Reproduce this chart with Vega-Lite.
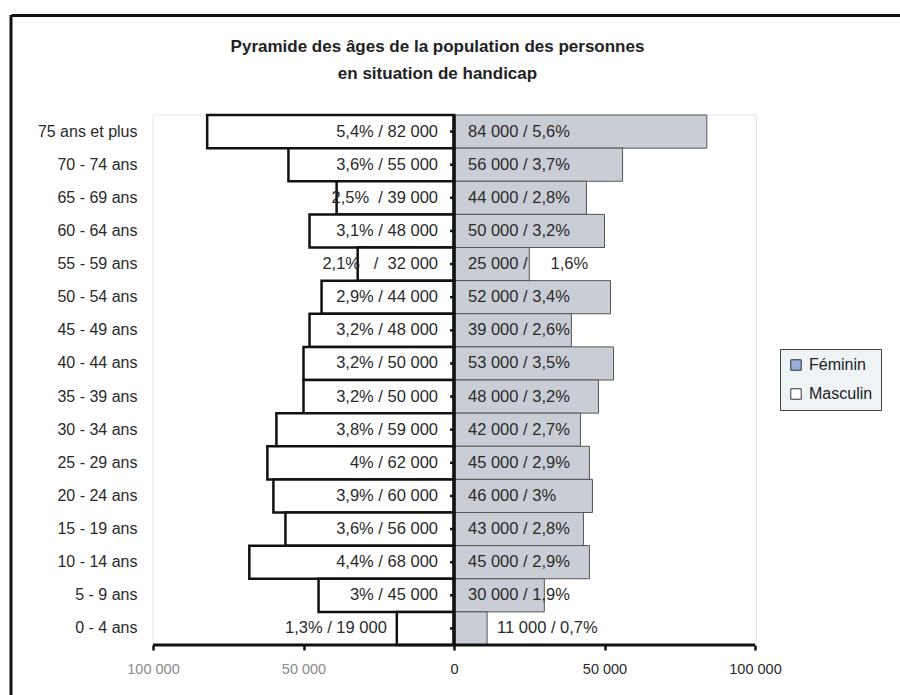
{
  "$schema": "https://vega.github.io/schema/vega-lite/v6.json",
  "width": 889,
  "height": 680,
  "autosize": {"type": "none"},
  "padding": {"left": 11, "top": 15, "right": 0, "bottom": 0},
  "background": "white",
  "title": {
    "text": "Pyramide des âges de la population des personnes",
    "subtitle": "en situation de handicap",
    "anchor": "middle",
    "frame": "group",
    "offset": -69,
    "dx": -18,
    "font": "Liberation Sans",
    "fontSize": 17,
    "fontWeight": "bold",
    "color": "#222222",
    "subtitleFont": "Liberation Sans",
    "subtitleFontSize": 17,
    "subtitleFontWeight": "bold",
    "subtitleColor": "#222222",
    "subtitlePadding": 10
  },
  "config": {
    "view": {"stroke": null},
    "font": "Liberation Sans"
  },
  "data": {
    "values": [
      {"age": "75 ans et plus", "sexe": "Féminin", "effectif": 84000, "etiquette": "84 000 / 5,6%"},
      {"age": "70 - 74 ans", "sexe": "Féminin", "effectif": 56000, "etiquette": "56 000 / 3,7%"},
      {"age": "65 - 69 ans", "sexe": "Féminin", "effectif": 44000, "etiquette": "44 000 / 2,8%"},
      {"age": "60 - 64 ans", "sexe": "Féminin", "effectif": 50000, "etiquette": "50 000 / 3,2%"},
      {"age": "55 - 59 ans", "sexe": "Féminin", "effectif": 25000, "etiquette": "25 000 /\u00a0\u00a0\u00a0\u00a0\u00a01,6%"},
      {"age": "50 - 54 ans", "sexe": "Féminin", "effectif": 52000, "etiquette": "52 000 / 3,4%"},
      {"age": "45 - 49 ans", "sexe": "Féminin", "effectif": 39000, "etiquette": "39 000 / 2,6%"},
      {"age": "40 - 44 ans", "sexe": "Féminin", "effectif": 53000, "etiquette": "53 000 / 3,5%"},
      {"age": "35 - 39 ans", "sexe": "Féminin", "effectif": 48000, "etiquette": "48 000 / 3,2%"},
      {"age": "30 - 34 ans", "sexe": "Féminin", "effectif": 42000, "etiquette": "42 000 / 2,7%"},
      {"age": "25 - 29 ans", "sexe": "Féminin", "effectif": 45000, "etiquette": "45 000 / 2,9%"},
      {"age": "20 - 24 ans", "sexe": "Féminin", "effectif": 46000, "etiquette": "46 000 / 3%"},
      {"age": "15 - 19 ans", "sexe": "Féminin", "effectif": 43000, "etiquette": "43 000 / 2,8%"},
      {"age": "10 - 14 ans", "sexe": "Féminin", "effectif": 45000, "etiquette": "45 000 / 2,9%"},
      {"age": "5 - 9 ans", "sexe": "Féminin", "effectif": 30000, "etiquette": "30 000 / 1,9%"},
      {"age": "0 - 4 ans", "sexe": "Féminin", "effectif": 11000, "etiquette": "11 000 / 0,7%"},
      {"age": "75 ans et plus", "sexe": "Masculin", "effectif": -82000, "etiquette": "5,4% / 82 000"},
      {"age": "70 - 74 ans", "sexe": "Masculin", "effectif": -55000, "etiquette": "3,6% / 55 000"},
      {"age": "65 - 69 ans", "sexe": "Masculin", "effectif": -39000, "etiquette": "2,5%\u00a0\u00a0/ 39 000"},
      {"age": "60 - 64 ans", "sexe": "Masculin", "effectif": -48000, "etiquette": "3,1% / 48 000"},
      {"age": "55 - 59 ans", "sexe": "Masculin", "effectif": -32000, "etiquette": "2,1%\u00a0\u00a0\u00a0/\u00a0\u00a032 000"},
      {"age": "50 - 54 ans", "sexe": "Masculin", "effectif": -44000, "etiquette": "2,9% / 44 000"},
      {"age": "45 - 49 ans", "sexe": "Masculin", "effectif": -48000, "etiquette": "3,2% / 48 000"},
      {"age": "40 - 44 ans", "sexe": "Masculin", "effectif": -50000, "etiquette": "3,2% / 50 000"},
      {"age": "35 - 39 ans", "sexe": "Masculin", "effectif": -50000, "etiquette": "3,2% / 50 000"},
      {"age": "30 - 34 ans", "sexe": "Masculin", "effectif": -59000, "etiquette": "3,8% / 59 000"},
      {"age": "25 - 29 ans", "sexe": "Masculin", "effectif": -62000, "etiquette": "4% / 62 000"},
      {"age": "20 - 24 ans", "sexe": "Masculin", "effectif": -60000, "etiquette": "3,9% / 60 000"},
      {"age": "15 - 19 ans", "sexe": "Masculin", "effectif": -56000, "etiquette": "3,6% / 56 000"},
      {"age": "10 - 14 ans", "sexe": "Masculin", "effectif": -68000, "etiquette": "4,4% / 68 000"},
      {"age": "5 - 9 ans", "sexe": "Masculin", "effectif": -45000, "etiquette": "3% / 45 000"},
      {"age": "0 - 4 ans", "sexe": "Masculin", "effectif": -19000, "etiquette": "1,3% / 19 000"}
    ]
  },
  "resolve": {"scale": {"x": "independent"}, "axis": {"x": "independent"}},
  "layer": [
    {
      "mark": {"type": "rule", "strokeWidth": 3, "color": "#111111"},
      "transform": [{"filter": "datum.sexe === 'Féminin' && datum.age === '0 - 4 ans'"}],
      "encoding": {
        "x": {
          "datum": 0,
          "type": "quantitative",
          "scale": {"domain": [0, 1], "nice": false, "zero": false},
          "axis": {
            "orient": "top",
            "offset": 0,
            "title": null,
            "grid": false,
            "domain": true,
            "domainColor": "#111111",
            "domainWidth": 3,
            "ticks": false,
            "labels": false
          }
        }
      }
    },
    {
      "encoding": {
        "y": {
          "field": "age",
          "type": "nominal",
          "scale": {
            "domain": ["75 ans et plus", "70 - 74 ans", "65 - 69 ans", "60 - 64 ans", "55 - 59 ans", "50 - 54 ans", "45 - 49 ans", "40 - 44 ans", "35 - 39 ans", "30 - 34 ans", "25 - 29 ans", "20 - 24 ans", "15 - 19 ans", "10 - 14 ans", "5 - 9 ans", "0 - 4 ans"],
            "range": [100, 630],
            "paddingInner": 0,
            "paddingOuter": 0
          },
          "axis": {
            "offset": -142,
            "title": null,
            "domain": false,
            "ticks": false,
            "labelPadding": 16,
            "labelFont": "Liberation Sans",
            "labelFontSize": 16,
            "labelColor": "#2a2a2a",
            "zindex": 1
          }
        }
      },
      "layer": [
        {
          "mark": {"type": "rect", "filled": false, "stroke": "#dce9e8", "strokeWidth": 1},
          "transform": [{"filter": "datum.sexe === 'Féminin' && datum.age === '0 - 4 ans'"}],
          "encoding": {
            "x": {"datum": -100000, "type": "quantitative"},
            "x2": {"datum": 100500},
            "y": {"datum": "75 ans et plus", "type": "nominal", "bandPosition": 0},
            "y2": {"datum": "0 - 4 ans", "bandPosition": 1}
          }
        },
        {
          "mark": {"type": "bar"},
          "encoding": {
            "x": {
              "field": "effectif",
              "type": "quantitative",
              "scale": {"domain": [-147177, 148173], "nice": false, "zero": false},
              "axis": {
                "orient": "bottom",
                "offset": -50,
                "values": [-100000, -50000, 0, 50000, 100000],
                "title": null,
                "grid": false,
                "domain": false,
                "ticks": true,
                "tickColor": "#111111",
                "tickWidth": 2.5,
                "tickSize": 5,
                "labelPadding": 12,
                "labelFont": "Liberation Sans",
                "labelFontSize": 14.5,
                "labelColor": {"condition": {"test": "datum.value < 0", "value": "#8a8a8a"}, "value": "#2a2a2a"},
                "labelExpr": "datum.value === 0 ? '0' : replace(format(abs(datum.value), ','), ',', ' ')",
                "zindex": 1
              }
            },
            "x2": {"datum": 0},
            "fill": {"condition": {"test": "datum.sexe === 'Masculin'", "value": "#ffffff"}, "value": "#c9ced6"},
            "stroke": {"condition": {"test": "datum.sexe === 'Masculin'", "value": "#111111"}, "value": "#555555"},
            "strokeWidth": {"condition": {"test": "datum.sexe === 'Masculin'", "value": 2.5}, "value": 1},
            "fillOpacity": {"value": 1}
          }
        },
        {
          "mark": {"type": "point", "shape": "square", "filled": true, "size": 0, "opacity": 1},
          "encoding": {
            "x": {"field": "effectif", "type": "quantitative"},
            "fill": {
              "field": "sexe",
              "type": "nominal",
              "scale": {"domain": ["Féminin", "Masculin"], "range": ["#98afd9", "#ffffff"]},
              "legend": {
                "title": null,
                "orient": "none",
                "legendX": 769,
                "legendY": 334,
                "padding": 8,
                "strokeColor": "#444444",
                "fillColor": "#eef3f6",
                "symbolType": "square",
                "symbolSize": 110,
                "symbolStrokeColor": "#333333",
                "symbolStrokeWidth": 1,
                "labelFont": "Liberation Sans",
                "labelFontSize": 16,
                "labelColor": "#222222",
                "labelOffset": 5,
                "rowPadding": 13
              }
            },
            "stroke": {"value": "#333333"},
            "strokeWidth": {"value": 1}
          }
        },
        {
          "mark": {"type": "tick", "thickness": 3.5, "size": 34, "color": "#111111", "opacity": 1},
          "transform": [{"filter": "datum.sexe === 'Féminin'"}],
          "encoding": {
            "x": {"datum": 0, "type": "quantitative"}
          }
        },
        {
          "mark": {"type": "rule", "strokeWidth": 2.5, "color": "#111111"},
          "transform": [{"filter": "datum.sexe === 'Féminin'"}],
          "encoding": {
            "x": {"datum": -1300, "type": "quantitative"},
            "x2": {"datum": 0}
          }
        },
        {
          "mark": {"type": "rule", "strokeWidth": 3, "color": "#111111"},
          "transform": [{"filter": "datum.sexe === 'Féminin' && datum.age === '0 - 4 ans'"}],
          "encoding": {
            "x": {"datum": -100000, "type": "quantitative"},
            "x2": {"datum": 100000},
            "y": {"datum": "0 - 4 ans", "type": "nominal", "bandPosition": 1}
          }
        },
        {
          "mark": {"type": "text", "align": "right", "baseline": "middle", "dx": -16, "font": "Liberation Sans", "fontSize": 16.5, "color": "#2a2a2a"},
          "transform": [{"filter": "datum.sexe === 'Masculin' && datum.age !== '0 - 4 ans'"}],
          "encoding": {
            "x": {"datum": 0, "type": "quantitative"},
            "text": {"field": "etiquette"}
          }
        },
        {
          "mark": {"type": "text", "align": "left", "baseline": "middle", "dx": 14, "font": "Liberation Sans", "fontSize": 16.5, "color": "#2a2a2a"},
          "transform": [{"filter": "datum.sexe === 'Féminin' && datum.age !== '0 - 4 ans'"}],
          "encoding": {
            "x": {"datum": 0, "type": "quantitative"},
            "text": {"field": "etiquette"}
          }
        },
        {
          "mark": {"type": "text", "align": "right", "baseline": "middle", "dx": -10, "font": "Liberation Sans", "fontSize": 16.5, "color": "#2a2a2a"},
          "transform": [{"filter": "datum.sexe === 'Masculin' && datum.age === '0 - 4 ans'"}],
          "encoding": {
            "x": {"field": "effectif", "type": "quantitative"},
            "text": {"field": "etiquette"}
          }
        },
        {
          "mark": {"type": "text", "align": "left", "baseline": "middle", "dx": 10, "font": "Liberation Sans", "fontSize": 16.5, "color": "#2a2a2a"},
          "transform": [{"filter": "datum.sexe === 'Féminin' && datum.age === '0 - 4 ans'"}],
          "encoding": {
            "x": {"field": "effectif", "type": "quantitative"},
            "text": {"field": "etiquette"}
          }
        }
      ]
    }
  ]
}
